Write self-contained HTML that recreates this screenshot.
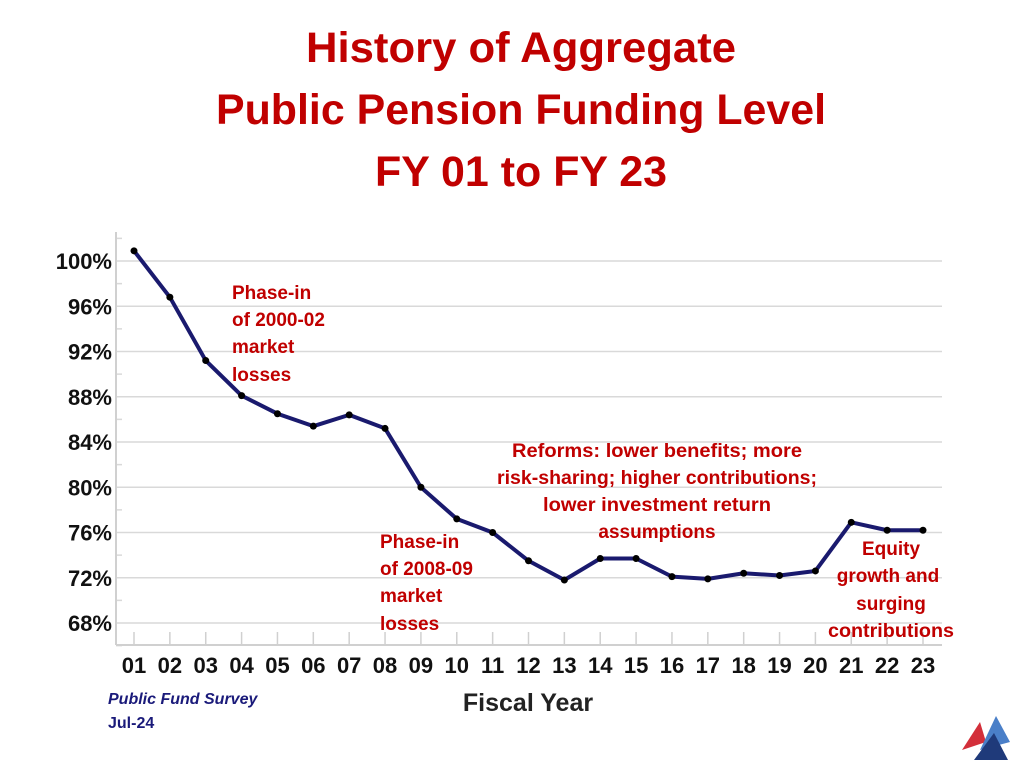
<!DOCTYPE html>
<html><head><meta charset="utf-8"><style>
body{margin:0;width:1024px;height:768px;background:#fff;overflow:hidden;font-family:"Liberation Sans",sans-serif}
</style></head><body>
<svg width="1024" height="768" style="position:absolute;left:0;top:0">
<g font-family="Liberation Sans, sans-serif" font-weight="bold" fill="#c00000" text-anchor="middle" font-size="43">
<text x="521" y="62" textLength="430" lengthAdjust="spacingAndGlyphs">History of Aggregate</text>
<text x="521" y="124" textLength="610" lengthAdjust="spacingAndGlyphs">Public Pension Funding Level</text>
<text x="521" y="186" textLength="292" lengthAdjust="spacingAndGlyphs">FY 01 to FY 23</text>
</g>
<g id="grid"></g>
<g id="axes"></g>
<g id="series"></g>
<g font-weight="bold" font-size="19" fill="#c00000">
<g>
<text x="232" y="299">Phase-in</text><text x="232" y="326">of 2000-02</text><text x="232" y="353">market</text><text x="232" y="381">losses</text></g>
<g>
<text x="380" y="548">Phase-in</text><text x="380" y="575">of 2008-09</text><text x="380" y="602">market</text><text x="380" y="630">losses</text></g>
<g text-anchor="middle">
<text x="657" y="457" textLength="290" lengthAdjust="spacingAndGlyphs">Reforms: lower benefits; more</text><text x="657" y="484" textLength="320" lengthAdjust="spacingAndGlyphs">risk-sharing; higher contributions;</text><text x="657" y="511" textLength="228" lengthAdjust="spacingAndGlyphs">lower investment return</text><text x="657" y="538">assumptions</text></g>
<g text-anchor="middle">
<text x="891" y="555">Equity</text><text x="888" y="582">growth and</text><text x="891" y="610">surging</text><text x="891" y="637" textLength="126" lengthAdjust="spacingAndGlyphs">contributions</text></g>
</g>
<text x="528" y="711" font-size="25" font-weight="bold" text-anchor="middle" fill="#222">Fiscal Year</text>
<text x="108" y="704" font-size="16" font-weight="bold" font-style="italic" fill="#1a1a7a">Public Fund Survey</text>
<text x="108" y="728" font-size="16" font-weight="bold" fill="#1a1a7a">Jul-24</text>
<g>
<polygon points="962,750 980,722 986,742" fill="#d32f3a"/>
<polygon points="980,750 996,716 1010,742" fill="#4a7fc8"/>
<polygon points="974,760 994,733 1008,760" fill="#1f3a7a"/>
</g>
</svg>
<script>
const categories=["01","02","03","04","05","06","07","08","09","10","11","12","13","14","15","16","17","18","19","20","21","22","23"];
const fundingLevels=[100.9,96.8,91.2,88.1,86.5,85.4,86.4,85.2,80.0,77.2,76.0,73.5,71.8,73.7,73.7,72.1,71.9,72.4,72.2,72.6,76.9,76.2,76.2];
const yTicks=[68,72,76,80,84,88,92,96,100];
const NS="http://www.w3.org/2000/svg";
const x=i=>134+i*(923-134)/22;
const y=v=>261+(100-v)*(623-261)/32;
function mk(t,a,p){const e=document.createElementNS(NS,t);for(const k in a)e.setAttribute(k,a[k]);p.appendChild(e);return e;}
const grid=document.getElementById('grid'),axes=document.getElementById('axes'),ser=document.getElementById('series');
yTicks.forEach(v=>{
 const l=mk('line',{x1:116,x2:942,y1:y(v),y2:y(v),stroke:'#d9d9d9','stroke-width':1.5},grid);
 
 
 const t=mk('text',{x:112,y:y(v)+8,'text-anchor':'end','font-size':22,'font-weight':'bold',fill:'#111'},axes);
 t.textContent=v+'%';
 
 
});
for(let v=66;v<=102;v+=2){ if(v%4)mk('line',{x1:116,x2:122,y1:y(v),y2:y(v),stroke:'#d9d9d9','stroke-width':1.5},axes);}
mk('line',{x1:116,x2:116,y1:232,y2:645,stroke:'#d0d0d0','stroke-width':2},axes);
mk('line',{x1:116,x2:942,y1:645,y2:645,stroke:'#d0d0d0','stroke-width':2},axes);
categories.forEach((c,i)=>{
 mk('line',{x1:x(i),x2:x(i),y1:632,y2:645,stroke:'#d0d0d0','stroke-width':1.5},axes);
 const t=mk('text',{x:x(i),y:673,'text-anchor':'middle','font-size':22,'font-weight':'bold',fill:'#111'},axes);
 t.textContent=c;
 
 
});
const pl=mk('polyline',{points:fundingLevels.map((v,i)=>x(i)+','+y(v)).join(' '),fill:'none',stroke:'#1a1a6e','stroke-width':4,'stroke-linejoin':'round'},ser);


fundingLevels.forEach((v,i)=>{
 const c=mk('circle',{cx:x(i),cy:y(v),r:3.5,fill:'#000'},ser);
 
 
});
</script>
</body></html>
